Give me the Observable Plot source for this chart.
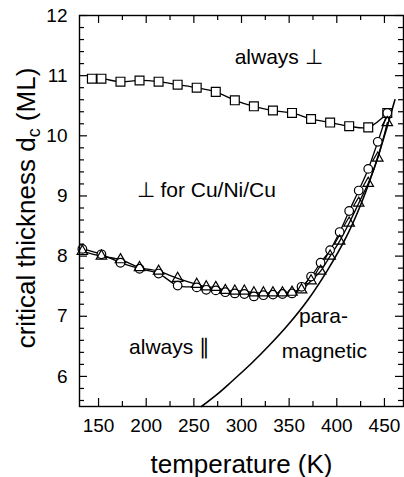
<!DOCTYPE html>
<html><head><meta charset="utf-8">
<script src="https://cdn.jsdelivr.net/npm/d3@7"></script>
<script src="https://cdn.jsdelivr.net/npm/@observablehq/plot@0.6"></script>
<style>body{margin:0;background:#fff} svg{display:block}</style>
</head><body><div id="chart"></div>
<script>
// always-perpendicular boundary (squares)
const squareT = [143,153,173,193,213,233,253,273,293,313,333,353,373,393,413,433,453];
const squareD = [10.95,10.95,10.90,10.92,10.90,10.85,10.80,10.73,10.59,10.49,10.42,10.38,10.28,10.22,10.16,10.14,10.38];
// in-plane boundary (circles / triangles)
const lowT = [133,153,173,193,213,233,253,263,273,283,293,303,313,323,333,343,353,363,373,383,393,403,413,423,433,443,453];
const circleD = [8.12,8.03,7.89,7.79,7.71,7.51,7.48,7.44,7.43,7.40,7.38,7.37,7.33,7.35,7.36,7.37,7.38,7.49,7.66,7.89,8.10,8.40,8.75,9.09,9.45,9.90,10.38];
const triangleD = [8.08,8.00,7.94,7.81,7.75,7.63,7.53,7.49,7.48,7.43,7.42,7.42,7.39,7.39,7.39,7.39,7.40,7.44,7.59,7.75,8.00,8.25,8.55,8.88,9.21,9.63,10.22];
// paramagnetic boundary curve
const curveT = [258,275,290,310,330,350,370,390,410,425,440,450,461];
const curveD = [5.5,5.71,5.92,6.21,6.53,6.88,7.28,7.76,8.32,8.85,9.5,10.0,10.6];
// annotations
const noteText = ["always \u22A5", "\u22A5 for Cu/Ni/Cu", "always \u2225", "para-", "magnetic"];
const noteT = [339, 263, 224.5, 386, 387];
const noteD = [11.2, 8.99, 6.37, 6.88, 6.30];
// ticks
const xMajor = [150,200,250,300,350,400,450];
const xMinor = [175,225,275,325,375,425];
const yMajor = [6,7,8,9,10,11,12];
const yMinor = [5.6,5.8,6.2,6.4,6.6,6.8,7.2,7.4,7.6,7.8,8.2,8.4,8.6,8.8,9.2,9.4,9.6,9.8,10.2,10.4,10.6,10.8,11.2,11.4,11.6,11.8];

const W = 404, H = 477, mL = 79, mR = 1, mT = 15, mB = 71;
const iw = W - mL - mR, ih = H - mT - mB;

const sq = squareT.map((t,i)=>({t, d: squareD[i]}));
const ci = lowT.map((t,i)=>({t, d: circleD[i]}));
const tr = lowT.map((t,i)=>({t, d: triangleD[i]}));
const cu = curveT.map((t,i)=>({t, d: curveD[i]}));
const notes = noteText.map((s,i)=>({s, t: noteT[i], d: noteD[i]}));

const chart = Plot.plot({
  width: W, height: H,
  marginLeft: mL, marginRight: mR, marginTop: mT, marginBottom: mB,
  style: {fontFamily: "'Liberation Sans', Arial, Helvetica, sans-serif", background: "#fff", color: "#000"},
  x: {domain: [130, 470], axis: null},
  y: {domain: [5.5, 12], axis: null},
  marks: [
    Plot.line(cu, {x: "t", y: "d", curve: "catmull-rom", stroke: "#000", strokeWidth: 1.6}),
    Plot.line(sq, {x: "t", y: "d", curve: "catmull-rom", stroke: "#000", strokeWidth: 1.3}),
    Plot.line(ci, {x: "t", y: "d", curve: "catmull-rom", stroke: "#000", strokeWidth: 1.3}),
    Plot.line(tr, {x: "t", y: "d", curve: "catmull-rom", stroke: "#000", strokeWidth: 1.3}),
    Plot.dot(sq, {x: "t", y: "d", symbol: "square", r: 5, fill: "#fff", stroke: "#000", strokeWidth: 1.2}),
    Plot.dot(ci, {x: "t", y: "d", symbol: "circle", r: 4.3, fill: "#fff", stroke: "#000", strokeWidth: 1.2}),
    Plot.dot(tr, {x: "t", y: "d", symbol: "triangle", r: 3.9, fill: "none", stroke: "#000", strokeWidth: 1.2}),
    Plot.text(notes, {x: "t", y: "d", text: "s", fontSize: 21, lineAnchor: "bottom", textAnchor: "middle", fill: "#000"}),
    // inward ticks on all four sides
    Plot.tickX(xMajor, {x: d => d, insetTop: ih - 8, stroke: "#000", strokeWidth: 1.2}),
    Plot.tickX(xMajor, {x: d => d, insetBottom: ih - 8, stroke: "#000", strokeWidth: 1.2}),
    Plot.tickX(xMinor, {x: d => d, insetTop: ih - 5, stroke: "#000", strokeWidth: 1.2}),
    Plot.tickX(xMinor, {x: d => d, insetBottom: ih - 5, stroke: "#000", strokeWidth: 1.2}),
    Plot.tickY(yMajor, {y: d => d, insetRight: iw - 8, stroke: "#000", strokeWidth: 1.2}),
    Plot.tickY(yMajor, {y: d => d, insetLeft: iw - 8, stroke: "#000", strokeWidth: 1.2}),
    Plot.tickY(yMinor, {y: d => d, insetRight: iw - 5, stroke: "#000", strokeWidth: 1.2}),
    Plot.tickY(yMinor, {y: d => d, insetLeft: iw - 5, stroke: "#000", strokeWidth: 1.2}),
    Plot.frame({stroke: "#000", strokeWidth: 1.4}),
    Plot.axisX(xMajor, {tickSize: 0, tickPadding: 12, fontSize: 19, label: null, tickFormat: d => String(d)}),
    Plot.axisY(yMajor, {tickSize: 0, tickPadding: 12, fontSize: 19, label: null, tickFormat: d => String(d)}),
    Plot.text([0], {frameAnchor: "bottom", text: () => "temperature (K)", dy: 66, fontSize: 26, lineAnchor: "bottom", fill: "#000"})
  ]
});
document.getElementById("chart").appendChild(chart);

// y-axis title with subscript
const svg = d3.select(chart.tagName.toLowerCase() === "svg" ? chart : chart.querySelector("svg"));
const yl = svg.append("text")
  .attr("transform", `translate(35,208) rotate(-90)`)
  .attr("text-anchor", "middle")
  .attr("font-size", 26)
  .attr("font-family", "'Liberation Sans', Arial, Helvetica, sans-serif")
  .attr("fill", "#000");
yl.append("tspan").text("critical thickness d");
yl.append("tspan").attr("font-size", 18).attr("dy", 5).text("c");
yl.append("tspan").attr("dy", -5).text(" (ML)");
</script>
</body></html>
